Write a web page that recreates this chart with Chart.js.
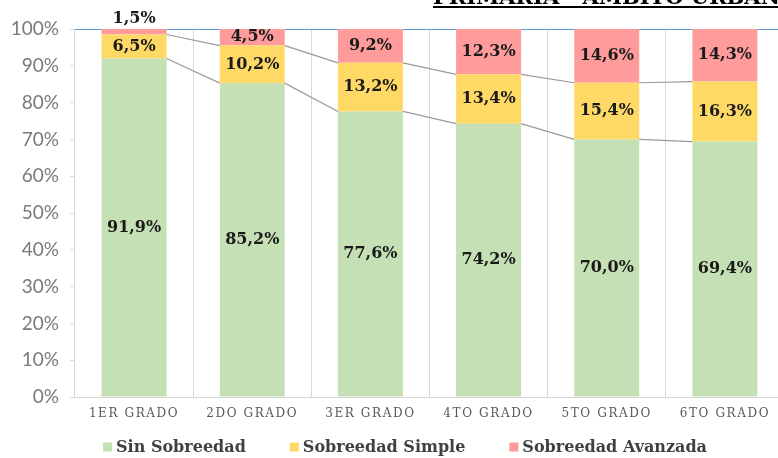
<!DOCTYPE html>
<html>
<head>
<meta charset="utf-8">
<script src="https://cdn.jsdelivr.net/npm/chart.js@4.4.0/dist/chart.umd.min.js"></script>
<style>
html, body { margin: 0; padding: 0; overflow: hidden; background: #fff; }
#wrap { position: relative; width: 786px; height: 458px; }
</style>
</head>
<body>
<div id="wrap"><canvas id="chart"></canvas></div>
<script>
const grados = ['1ER GRADO', '2DO GRADO', '3ER GRADO', '4TO GRADO', '5TO GRADO', '6TO GRADO'];
const sinSobreedad = [91.9, 85.2, 77.6, 74.2, 70.0, 69.4];
const sobreedadSimple = [6.5, 10.2, 13.2, 13.4, 15.4, 16.3];
const sobreedadAvanzada = [1.5, 4.5, 9.2, 12.3, 14.6, 14.3];
const titulo = 'PRIMARIA - ÁMBITO URBANO';

// 100% apilado: se normaliza cada columna como en Excel
const totales = grados.map((g, i) => sinSobreedad[i] + sobreedadSimple[i] + sobreedadAvanzada[i]);
const pct = arr => arr.map((v, i) => v / totales[i] * 100);

const serie = (label, raw, color) => ({
  label, raw, data: pct(raw), backgroundColor: color,
  barPercentage: 0.55, categoryPercentage: 1, stack: 's'
});

const fmt = v => v.toFixed(1).replace('.', ',') + '%';

// etiquetas de datos
const etiquetas = {
  id: 'etiquetas',
  afterDatasetsDraw(chart) {
    const ctx = chart.ctx;
    ctx.save();
    ctx.font = 'bold 16px "DejaVu Serif"';
    ctx.fillStyle = '#1a1a1a';
    ctx.textAlign = 'center';
    ctx.textBaseline = 'middle';
    chart.data.datasets.forEach((ds, di) => {
      chart.getDatasetMeta(di).data.forEach((bar, i) => {
        let y = (bar.y + bar.base) / 2;
        if (bar.base - bar.y < 10) y = bar.y - 10;
        ctx.fillText(fmt(ds.raw[i]), bar.x, y);
      });
    });
    ctx.restore();
  }
};

// líneas de serie entre columnas
const conectores = {
  id: 'conectores',
  afterDatasetsDraw(chart) {
    const ctx = chart.ctx;
    ctx.save();
    ctx.strokeStyle = '#9a9a9a';
    ctx.lineWidth = 1.2;
    [0, 1].forEach(di => {
      const bars = chart.getDatasetMeta(di).data;
      for (let i = 0; i < bars.length - 1; i++) {
        const a = bars[i], b = bars[i + 1];
        ctx.beginPath();
        ctx.moveTo(a.x + a.width / 2, a.y);
        ctx.lineTo(b.x - b.width / 2, b.y);
        ctx.stroke();
      }
    });
    ctx.restore();
  }
};

// espaciado de letras en las categorías
const espaciado = {
  id: 'espaciado',
  afterLayout(chart) {
    const sc = chart.scales.x;
    if (sc._wrapped) return;
    const orig = sc.drawLabels;
    sc.drawLabels = function (area) {
      const c = this.ctx;
      c.save();
      c.letterSpacing = '1.6px';
      orig.call(this, area);
      c.letterSpacing = '0px';
      c.restore();
    };
    sc._wrapped = true;
  }
};

// leyenda y título
const leyenda = {
  id: 'leyenda',
  afterDraw(chart) {
    const ctx = chart.ctx;
    ctx.save();
    ctx.font = 'bold 16px "DejaVu Serif"';
    ctx.textBaseline = 'middle';
    const box = 9, gapBox = 4, gapItem = 44, cy = 447;
    const items = chart.data.datasets.map(ds => ({ text: ds.label, color: ds.backgroundColor, w: ctx.measureText(ds.label).width }));
    const total = items.reduce((s, it) => s + box + gapBox + it.w, 0) + gapItem * (items.length - 1);
    let x = 405 - total / 2;
    items.forEach(it => {
      ctx.fillStyle = it.color;
      ctx.fillRect(x, cy - box / 2, box, box);
      x += box + gapBox;
      ctx.fillStyle = '#404040';
      ctx.fillText(it.text, x, cy + 1);
      x += it.w + gapItem;
    });
    // título (recortado arriba)
    ctx.font = 'bold 21px "DejaVu Serif"';
    ctx.fillStyle = '#000';
    ctx.textBaseline = 'alphabetic';
    ctx.fillText(titulo, 433, 4);
    const tw = ctx.measureText(titulo).width;
    ctx.fillRect(433, 6, tw, 2);
    ctx.restore();
  }
};

new Chart(document.getElementById('chart'), {
  type: 'bar',
  data: {
    labels: grados,
    datasets: [
      serie('Sin Sobreedad', sinSobreedad, '#C5E0B4'),
      serie('Sobreedad Simple', sobreedadSimple, '#FFD966'),
      serie('Sobreedad Avanzada', sobreedadAvanzada, '#FF9B9B')
    ]
  },
  options: {
    responsive: true,
    maintainAspectRatio: false,
    animation: false,
    layout: { padding: { top: 29, right: 2, left: 0, bottom: 35 } },
    plugins: { legend: { display: false }, title: { display: false }, tooltip: { enabled: false } },
    scales: {
      x: {
        stacked: true,
        grid: { color: '#d9d9d9', drawTicks: false, offset: true },
        border: { color: '#d9d9d9' },
        ticks: { color: '#595959', font: { family: '"DejaVu Serif"', size: 12 }, padding: 10, maxRotation: 0 },
        afterFit: s => { s.height = 26; }
      },
      y: {
        stacked: true,
        min: 0, max: 100,
        border: { display: false },
        grid: {
          color: c => c.tick && c.tick.value === 100 ? '#5B9BD5' : 'rgba(0,0,0,0)',
          tickColor: '#d9d9d9', tickLength: 5
        },
        ticks: {
          stepSize: 10, padding: 11, color: '#7a7a7a',
          font: { family: 'Lato', size: 19 },
          callback: v => v + '%'
        },
        afterFit: s => { s.width = 75; }
      }
    }
  },
  plugins: [conectores, etiquetas, espaciado, leyenda]
});
</script>
</body>
</html>
